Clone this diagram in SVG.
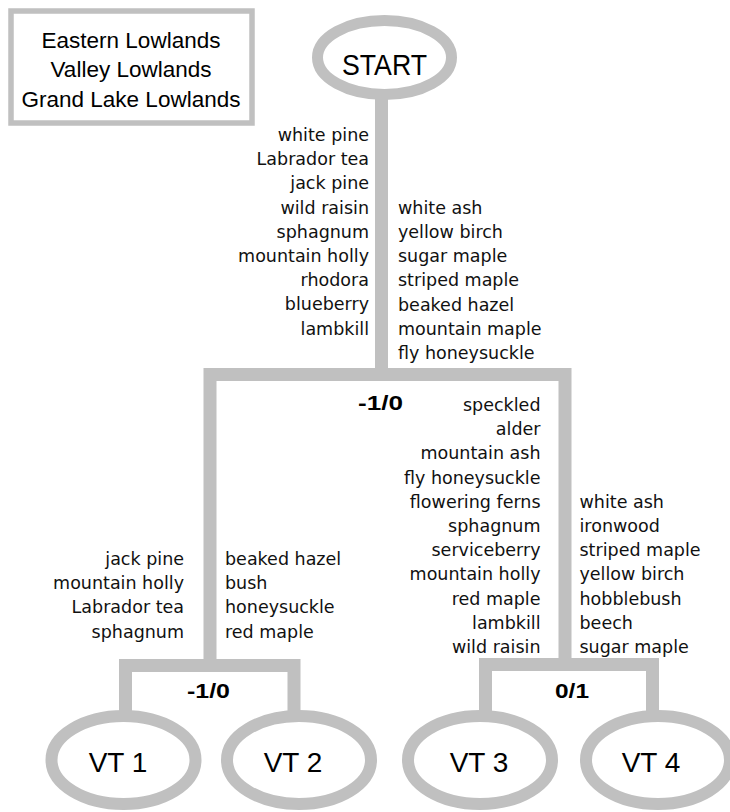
<svg xmlns="http://www.w3.org/2000/svg" width="730" height="812" viewBox="0 0 730 812">
<style>
.ring{fill:#fff;stroke:#c0c0c0}
.line{fill:none;stroke:#c0c0c0;stroke-width:13;stroke-linejoin:miter;stroke-linecap:butt}
.sp{font-family:"DejaVu Sans",sans-serif;font-size:17.5px;fill:#111}
.end{text-anchor:end}
.lab{font-family:"Liberation Sans",Arial,sans-serif;fill:#000;text-anchor:middle}
.num{font-family:"Liberation Sans",Arial,sans-serif;font-weight:bold;font-size:20px;fill:#000;text-anchor:middle}
</style>
<rect width="730" height="812" fill="#fff"/>
<g id="connectors">
<path class="line" d="M381.5,98 V374.5"/>
<path class="line" d="M210,666 V374.5 H565 V665"/>
<path class="line" d="M125.5,712 V665.5 H294 V712"/>
<path class="line" d="M485.5,712 V664.5 H652.5 V712"/>
</g>
<g id="legend">
<rect x="11" y="11" width="241" height="112" fill="#fff" stroke="#c0c0c0" stroke-width="5.5"/>
<text class="lab" font-size="22.5" x="131" y="47.7">Eastern Lowlands</text>
<text class="lab" font-size="22.5" x="131" y="77.3">Valley Lowlands</text>
<text class="lab" font-size="22.5" x="131" y="107.3">Grand Lake Lowlands</text>
</g>
<g id="start">
<ellipse class="ring" cx="384.5" cy="57.5" rx="67" ry="37" stroke-width="11"/>
<text class="lab" font-size="30" x="384.5" y="75" textLength="85" lengthAdjust="spacingAndGlyphs">START</text>
</g>
<g id="vt1">
<ellipse class="ring" cx="123.5" cy="760" rx="72" ry="44" stroke-width="12"/>
<text class="lab" font-size="28" x="118" y="771.7">VT 1</text>
</g>
<g id="vt2">
<ellipse class="ring" cx="299" cy="760" rx="72" ry="44" stroke-width="12"/>
<text class="lab" font-size="28" x="293" y="771.7">VT 2</text>
</g>
<g id="vt3">
<ellipse class="ring" cx="480" cy="760" rx="72" ry="44" stroke-width="12"/>
<text class="lab" font-size="28" x="479" y="771.7">VT 3</text>
</g>
<g id="vt4">
<ellipse class="ring" cx="658" cy="760" rx="72" ry="44" stroke-width="12"/>
<text class="lab" font-size="28" x="651" y="771.7">VT 4</text>
</g>
<g id="labels">
<text class="num" x="380.5" y="410" textLength="45" lengthAdjust="spacingAndGlyphs">-1/0</text>
<text class="num" x="208.5" y="698" textLength="43" lengthAdjust="spacingAndGlyphs">-1/0</text>
<text class="num" x="572" y="698" textLength="34" lengthAdjust="spacingAndGlyphs">0/1</text>
</g>
<g id="species-top-left">
<text class="sp end"><tspan x="369" y="141">white pine</tspan><tspan x="369" dy="24.2">Labrador tea</tspan><tspan x="369" dy="24.2">jack pine</tspan><tspan x="369" dy="24.2">wild raisin</tspan><tspan x="369" dy="24.2">sphagnum</tspan><tspan x="369" dy="24.2">mountain holly</tspan><tspan x="369" dy="24.2">rhodora</tspan><tspan x="369" dy="24.2">blueberry</tspan><tspan x="369" dy="24.2">lambkill</tspan></text>
</g>
<g id="species-top-right">
<text class="sp"><tspan x="398" y="213.8">white ash</tspan><tspan x="398" dy="24.2">yellow birch</tspan><tspan x="398" dy="24.2">sugar maple</tspan><tspan x="398" dy="24.2">striped maple</tspan><tspan x="398" dy="24.2">beaked hazel</tspan><tspan x="398" dy="24.2">mountain maple</tspan><tspan x="398" dy="24.2">fly honeysuckle</tspan></text>
</g>
<g id="species-mid-left">
<text class="sp end"><tspan x="184" y="565">jack pine</tspan><tspan x="184" dy="24.2">mountain holly</tspan><tspan x="184" dy="24.2">Labrador tea</tspan><tspan x="184" dy="24.2">sphagnum</tspan></text>
</g>
<g id="species-mid-right">
<text class="sp"><tspan x="225" y="565">beaked hazel</tspan><tspan x="225" dy="24.2">bush</tspan><tspan x="225" dy="24.2">honeysuckle</tspan><tspan x="225" dy="24.2">red maple</tspan></text>
</g>
<g id="species-right-left">
<text class="sp end"><tspan x="540.5" y="411">speckled</tspan><tspan x="540.5" dy="24.2">alder</tspan><tspan x="540.5" dy="24.2">mountain ash</tspan><tspan x="540.5" dy="24.2">fly honeysuckle</tspan><tspan x="540.5" dy="24.2">flowering ferns</tspan><tspan x="540.5" dy="24.2">sphagnum</tspan><tspan x="540.5" dy="24.2">serviceberry</tspan><tspan x="540.5" dy="24.2">mountain holly</tspan><tspan x="540.5" dy="24.2">red maple</tspan><tspan x="540.5" dy="24.2">lambkill</tspan><tspan x="540.5" dy="24.2">wild raisin</tspan></text>
</g>
<g id="species-right-right">
<text class="sp"><tspan x="579.5" y="507.8">white ash</tspan><tspan x="579.5" dy="24.2">ironwood</tspan><tspan x="579.5" dy="24.2">striped maple</tspan><tspan x="579.5" dy="24.2">yellow birch</tspan><tspan x="579.5" dy="24.2">hobblebush</tspan><tspan x="579.5" dy="24.2">beech</tspan><tspan x="579.5" dy="24.2">sugar maple</tspan></text>
</g>
</svg>
